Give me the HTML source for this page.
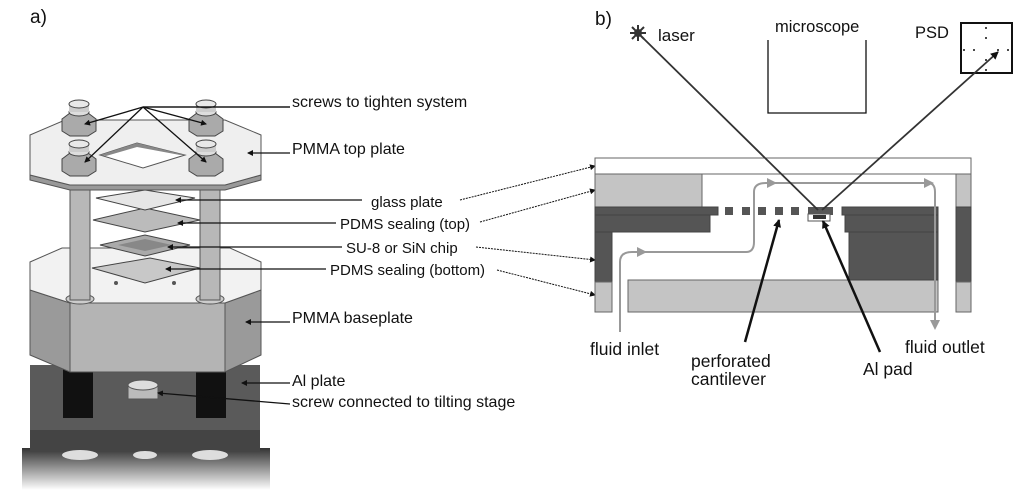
<!DOCTYPE html>
<html><head><meta charset="utf-8"><style>
html,body{margin:0;padding:0;background:#fff;}
svg{display:block;}
text{font-family:"Liberation Sans",Arial,sans-serif;fill:#111;}
</style></head><body>
<svg width="1024" height="500" viewBox="0 0 1024 500" xmlns="http://www.w3.org/2000/svg">
<defs>
<marker id="ah" markerWidth="8" markerHeight="8" refX="7" refY="4" orient="auto" markerUnits="userSpaceOnUse"><path d="M0,0 L8,4 L0,8 Z" fill="#111"/></marker>
<marker id="ahs" markerWidth="6" markerHeight="6" refX="5" refY="3" orient="auto" markerUnits="userSpaceOnUse"><path d="M0,0 L6,3 L0,6 Z" fill="#111"/></marker>
<marker id="ag" markerWidth="10" markerHeight="10" refX="8" refY="5" orient="auto" markerUnits="userSpaceOnUse"><path d="M0,0 L10,5 L0,10 Z" fill="#999"/></marker>
<linearGradient id="sh" x1="0" y1="0" x2="0" y2="1"><stop offset="0" stop-color="#333"/><stop offset="1" stop-color="#fff"/></linearGradient>
</defs>
<rect width="1024" height="500" fill="#fff"/>
<text x="30" y="23" font-size="19">a)</text>
<text x="595" y="25" font-size="19">b)</text>

<!-- LEFT PANEL -->
<rect x="22" y="448" width="248" height="42" fill="url(#sh)"/>
<rect x="30" y="365" width="230" height="85" fill="#5a5a5a"/>
<rect x="30" y="430" width="230" height="22" fill="#444"/>
<ellipse cx="80" cy="455" rx="18" ry="5" fill="#ddd"/>
<ellipse cx="145" cy="455" rx="12" ry="4" fill="#ddd"/>
<ellipse cx="210" cy="455" rx="18" ry="5" fill="#ddd"/>
<rect x="63" y="368" width="30" height="50" fill="#111"/>
<rect x="196" y="368" width="30" height="50" fill="#111"/>
<rect x="128" y="385" width="30" height="14" fill="#bbb" stroke="#555"/>
<ellipse cx="143" cy="385" rx="15" ry="5" fill="#ddd" stroke="#555"/>
<polygon points="30,290 70,303 225,303 261,290 261,355 225,372 70,372 30,355" fill="#9a9a9a" stroke="#555"/>
<polygon points="70,303 225,303 225,372 70,372" fill="#b4b4b4" stroke="#555"/>
<polygon points="30,262 62,248 230,248 261,262 261,290 225,303 70,303 30,290" fill="#f2f2f2" stroke="#555"/>
<ellipse cx="80" cy="299" rx="14" ry="5" fill="#ccc" stroke="#555"/>
<ellipse cx="210" cy="299" rx="14" ry="5" fill="#ccc" stroke="#555"/>
<circle cx="116" cy="283" r="2" fill="#555"/><circle cx="174" cy="283" r="2" fill="#555"/>
<rect x="70" y="185" width="20" height="115" fill="#b8b8b8" stroke="#555"/>
<rect x="200" y="185" width="20" height="115" fill="#b8b8b8" stroke="#555"/>
<polygon points="92,268 150,258 200,268 145,283" fill="#c8c8c8" stroke="#444"/>
<polygon points="100,245 145,235 190,245 145,256" fill="#aaa" stroke="#444"/>
<polygon points="118,245 145,239 172,245 145,251" fill="#888"/>
<polygon points="93,220 145,208 200,220 145,232" fill="#bbb" stroke="#444"/>
<polygon points="96,198 145,190 195,198 145,210" fill="#e6e6e6" stroke="#444"/>
<polygon points="30,175 70,185 225,185 261,175 261,180 225,190 70,190 30,180" fill="#999" stroke="#555"/>
<polygon points="30,135 65,120 225,120 261,135 261,175 225,185 70,185 30,175" fill="#efefef" stroke="#555"/>
<polygon points="100,155 137,143 185,155 143,168" fill="#fff" stroke="#555"/>
<polygon points="100,155 137,143 185,155 180,155 137,147 106,156" fill="#888"/>
<g fill="#aaa" stroke="#444">
<g transform="translate(79,124)"><polygon points="-17,-5 -9,-11 9,-11 17,-5 17,7 9,12 -9,12 -17,7"/><ellipse cx="0" cy="-12" rx="10" ry="4" fill="#ddd"/><rect x="-10" y="-20" width="20" height="8" fill="#ccc" stroke="none"/><ellipse cx="0" cy="-20" rx="10" ry="4" fill="#e8e8e8"/></g>
<g transform="translate(206,124)"><polygon points="-17,-5 -9,-11 9,-11 17,-5 17,7 9,12 -9,12 -17,7"/><ellipse cx="0" cy="-12" rx="10" ry="4" fill="#ddd"/><rect x="-10" y="-20" width="20" height="8" fill="#ccc" stroke="none"/><ellipse cx="0" cy="-20" rx="10" ry="4" fill="#e8e8e8"/></g>
<g transform="translate(79,164)"><polygon points="-17,-5 -9,-11 9,-11 17,-5 17,7 9,12 -9,12 -17,7"/><ellipse cx="0" cy="-12" rx="10" ry="4" fill="#ddd"/><rect x="-10" y="-20" width="20" height="8" fill="#ccc" stroke="none"/><ellipse cx="0" cy="-20" rx="10" ry="4" fill="#e8e8e8"/></g>
<g transform="translate(206,164)"><polygon points="-17,-5 -9,-11 9,-11 17,-5 17,7 9,12 -9,12 -17,7"/><ellipse cx="0" cy="-12" rx="10" ry="4" fill="#ddd"/><rect x="-10" y="-20" width="20" height="8" fill="#ccc" stroke="none"/><ellipse cx="0" cy="-20" rx="10" ry="4" fill="#e8e8e8"/></g>
</g>
<g stroke="#111" stroke-width="1.3" fill="none" marker-end="url(#ahs)">
<polyline points="290,107 143,107 85,124"/>
<polyline points="143,107 206,124"/>
<polyline points="143,107 85,162"/>
<polyline points="143,107 206,162"/>
<polyline points="290,153 248,153"/>
<polyline points="362,200 176,200"/>
<polyline points="336,223 178,223"/>
<polyline points="342,247 168,247"/>
<polyline points="326,269 166,269"/>
<polyline points="290,322 246,322"/>
<polyline points="290,383 242,383"/>
<polyline points="290,404 158,393"/>
</g>
<line x1="143" y1="107" x2="290" y2="107" stroke="#111" stroke-width="1.3"/>
<text x="292" y="107" font-size="16">screws to tighten system</text>
<text x="292" y="154" font-size="16">PMMA top plate</text>
<text x="371" y="207" font-size="15">glass plate</text>
<text x="340" y="229" font-size="15">PDMS sealing (top)</text>
<text x="346" y="253" font-size="15">SU-8 or SiN chip</text>
<text x="330" y="275" font-size="15">PDMS sealing (bottom)</text>
<text x="292" y="323" font-size="16">PMMA baseplate</text>
<text x="292" y="386" font-size="16">Al plate</text>
<text x="292" y="407" font-size="16">screw connected to tilting stage</text>
<g stroke="#111" stroke-width="1" fill="none" stroke-dasharray="2,1" marker-end="url(#ahs)">
<line x1="460" y1="200" x2="595" y2="166"/>
<line x1="480" y1="222" x2="595" y2="190"/>
<line x1="476" y1="247" x2="595" y2="260"/>
<line x1="497" y1="270" x2="595" y2="295"/>
</g>

<!-- RIGHT PANEL -->
<rect x="595" y="158" width="376" height="16" fill="#fff" stroke="#666"/>
<rect x="595" y="174" width="107" height="33" fill="#c4c4c4" stroke="#666"/>
<rect x="595" y="207" width="123" height="8" fill="#555" stroke="#444"/>
<rect x="595" y="215" width="115" height="17" fill="#555" stroke="#444"/>
<rect x="595" y="232" width="17" height="50" fill="#555" stroke="#444"/>
<rect x="595" y="282" width="17" height="30" fill="#c4c4c4" stroke="#666"/>
<rect x="628" y="280" width="310" height="32" fill="#c4c4c4" stroke="#666"/>
<rect x="842" y="207" width="96" height="8" fill="#555" stroke="#444"/>
<rect x="845" y="215" width="93" height="17" fill="#555" stroke="#444"/>
<rect x="849" y="232" width="89" height="48" fill="#555" stroke="#444"/>
<rect x="956" y="174" width="15" height="33" fill="#c4c4c4" stroke="#666"/>
<rect x="956" y="207" width="15" height="75" fill="#555" stroke="#444"/>
<rect x="956" y="282" width="15" height="30" fill="#c4c4c4" stroke="#666"/>
<g fill="#555"><rect x="725" y="207" width="8" height="8"/><rect x="742" y="207" width="8" height="8"/><rect x="758" y="207" width="8" height="8"/><rect x="775" y="207" width="8" height="8"/><rect x="791" y="207" width="8" height="8"/></g>
<rect x="808" y="207" width="25" height="8" fill="#555"/>
<rect x="808" y="214" width="22" height="7" fill="#fff" stroke="#555"/>
<rect x="813" y="215" width="13" height="4" fill="#333"/>
<path d="M620,332 L620,262 Q620,252 632,252 L746,252 Q754,252 754,242 L754,192 Q754,183 766,183 L928,183 Q935,183 935,192 L935,328" stroke="#999" stroke-width="2" fill="none" marker-end="url(#ag)"/>
<path d="M636,252 L645,252" stroke="#999" marker-end="url(#ag)" fill="none"/>
<path d="M762,183 L775,183" stroke="#999" marker-end="url(#ag)" fill="none"/>
<path d="M920,183 L932,183" stroke="#999" marker-end="url(#ag)" fill="none"/>
<polyline points="768,40 768,113 866,113 866,40" fill="none" stroke="#111" stroke-width="1.3"/>
<text x="775" y="32" font-size="16.5">microscope</text>
<rect x="961" y="23" width="51" height="50" fill="none" stroke="#111" stroke-width="2"/>
<g fill="#111"><circle cx="986" cy="28" r="1"/><circle cx="986" cy="38" r="1"/><circle cx="986" cy="60" r="1"/><circle cx="986" cy="70" r="1"/><circle cx="964" cy="50" r="1"/><circle cx="974" cy="50" r="1"/><circle cx="998" cy="50" r="1"/><circle cx="1008" cy="50" r="1"/></g>
<text x="915" y="38" font-size="16.5">PSD</text>
<g stroke="#333" stroke-width="2"><line x1="630" y1="33" x2="646" y2="33"/><line x1="638" y1="25" x2="638" y2="41"/><line x1="632" y1="27" x2="644" y2="39"/><line x1="644" y1="27" x2="632" y2="39"/></g>
<circle cx="638" cy="33" r="4" fill="#333"/>
<text x="658" y="41" font-size="17">laser</text>
<line x1="642" y1="37" x2="818" y2="210" stroke="#333" stroke-width="1.8"/>
<line x1="822" y1="210" x2="998" y2="52" stroke="#333" stroke-width="1.8" marker-end="url(#ah)"/>
<line x1="745" y1="342" x2="779" y2="220" stroke="#111" stroke-width="2.5" marker-end="url(#ah)"/>
<line x1="880" y1="352" x2="823" y2="221" stroke="#111" stroke-width="2.5" marker-end="url(#ah)"/>
<text x="590" y="355" font-size="17.5">fluid inlet</text>
<text x="691" y="367" font-size="17.5">perforated</text>
<text x="691" y="385" font-size="17.5">cantilever</text>
<text x="863" y="375" font-size="17.5">Al pad</text>
<text x="905" y="353" font-size="17.5">fluid outlet</text>
</svg>
</body></html>
